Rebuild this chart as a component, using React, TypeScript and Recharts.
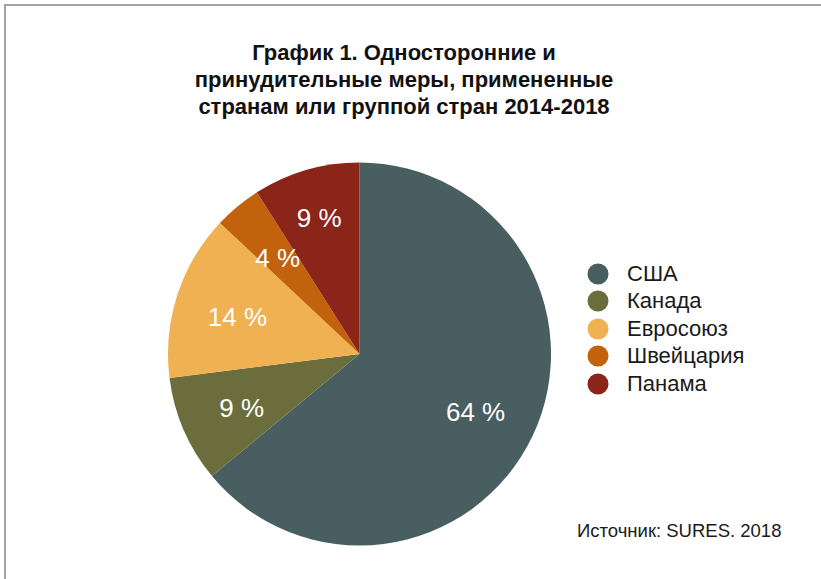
import React from "react";
import { PieChart, Pie, Cell, Legend } from "recharts";

const categories = ["США", "Канада", "Евросоюз", "Швейцария", "Панама"];
const shares = [64, 9, 14, 4, 9];
const colors = ["#485e60", "#6b6e3c", "#efb152", "#c3620c", "#8b2419"];
const titleLines = [
  "График 1. Односторонние и",
  "принудительные меры, примененные",
  "странам или группой стран 2014-2018",
];
const sourceText = "Источник: SURES. 2018";

const data = categories.map((name, i) => ({ name, value: shares[i] }));

const FONT = "'Liberation Sans', Arial, sans-serif";
const RAD = Math.PI / 180;

const renderLabel = (props: any) => {
  const { cx, cy, midAngle, outerRadius, index, value } = props;
  const f = index === 4 ? 0.754 : 0.67;
  const r = outerRadius * f;
  const x = cx + r * Math.cos(-midAngle * RAD);
  const y = cy + r * Math.sin(-midAngle * RAD) + 3;
  return (
    <text
      x={x}
      y={y}
      fill="#ffffff"
      fontSize={26}
      fontFamily={FONT}
      textAnchor="middle"
      dominantBaseline="central"
    >
      {`${value} %`}
    </text>
  );
};

const renderLegend = () => (
  <div style={{ fontFamily: FONT }}>
    {data.map((d, i) => (
      <div
        key={d.name}
        style={{ display: "flex", alignItems: "center", height: 27.5 }}
      >
        <svg width={22} height={22} style={{ marginRight: 18 }}>
          <circle cx={11} cy={11} r={10.5} fill={colors[i]} />
        </svg>
        <span style={{ fontSize: 22, color: "#1a1a1a" }}>{d.name}</span>
      </div>
    ))}
  </div>
);

export default function App() {
  return (
    <div
      style={{
        position: "absolute",
        left: 0,
        top: 0,
        width: 821,
        height: 579,
        background: "#fff",
        overflow: "hidden",
      }}
    >
      <div
        style={{
          position: "absolute",
          left: 4,
          top: 4,
          width: 830,
          height: 590,
          borderTop: "2px solid #a3a3a3",
          borderLeft: "2px solid #a3a3a3",
        }}
      />
      <div
        style={{
          position: "absolute",
          left: 0,
          top: 39,
          width: 808,
          textAlign: "center",
          fontFamily: FONT,
          fontWeight: "bold",
          fontSize: 22,
          lineHeight: "27px",
          color: "#111",
        }}
      >
        {titleLines.map((t) => (
          <div key={t}>{t}</div>
        ))}
      </div>
      <PieChart width={821} height={579} style={{ position: "absolute", left: 0, top: 0 }}>
        <Pie
          data={data}
          dataKey="value"
          nameKey="name"
          cx={354.5}
          cy={349}
          outerRadius={191.5}
          startAngle={90}
          endAngle={-270}
          stroke="none"
          label={renderLabel}
          labelLine={false}
          isAnimationActive={false}
        >
          {data.map((d, i) => (
            <Cell key={d.name} fill={colors[i]} />
          ))}
        </Pie>
        <Legend
          layout="vertical"
          content={renderLegend}
          wrapperStyle={{ position: "absolute", left: 587, top: 260, width: 220 }}
        />
      </PieChart>
      <div
        style={{
          position: "absolute",
          left: 577,
          top: 520,
          fontFamily: FONT,
          fontSize: 18.5,
          color: "#1a1a1a",
          whiteSpace: "nowrap",
        }}
      >
        {sourceText}
      </div>
    </div>
  );
}
